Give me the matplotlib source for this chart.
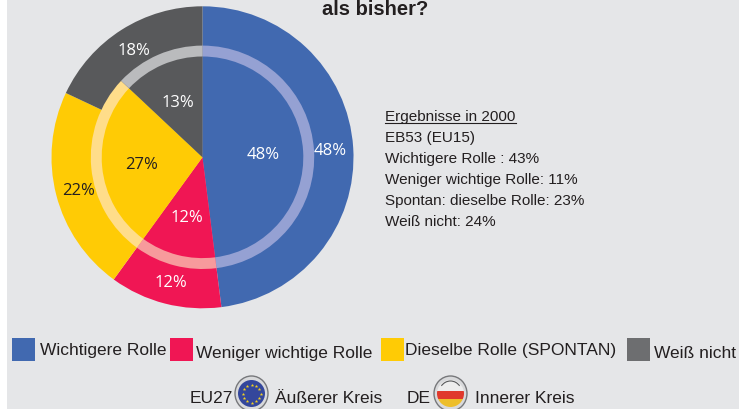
import matplotlib
matplotlib.use("Agg")
import matplotlib.pyplot as plt
from matplotlib.patches import Rectangle, Ellipse, Arc
import numpy as np

W, H = 749, 410

# data
categories = ["Wichtigere Rolle", "Weniger wichtige Rolle", "Dieselbe Rolle (SPONTAN)", "Weiß nicht"]
outer_eu27 = [48, 12, 22, 18]
inner_de = [48, 12, 27, 13]
result_lines = ["EB53 (EU15)", "Wichtigere Rolle : 43%", "Weniger wichtige Rolle: 11%",
                "Spontan: dieselbe Rolle: 23%", "Weiß nicht: 24%"]

# styles
colors = ["#4169B0", "#F01654", "#FFCB05", "#58595B"]
ring_colors = ["#95A1D3", "#F79A9C", "#FFDD8A", "#BABBBD"]
legend_colors = ["#4169B0", "#F01654", "#FFCB05", "#6D6E70"]
label_colors = ["white", "white", "#231F20", "white"]
BG = "#E5E6E8"
TXT = "#231F20"
SANS = "Liberation Sans"
cx, cy = 202.5, 410 - 158.3

fig = plt.figure(figsize=(W / 100, H / 100), dpi=100, facecolor="white")
ax = fig.add_axes([0, 0, 1, 1])
ax.add_patch(Rectangle((7, 0), 732, H, fc=BG, ec="none", zorder=0))


def py(y):
    return H - y


def draw_ring(values, radius, cols, **kw):
    return ax.pie(values, colors=cols, radius=radius, center=(cx, cy), startangle=90,
                  counterclock=False, frame=True, wedgeprops=dict(linewidth=0), **kw)


res_o = draw_ring(outer_eu27, 151, colors, autopct="%d%%", pctdistance=128 / 151)
draw_ring(inner_de, 111.7, ring_colors)
res_i = draw_ring(inner_de, 100.8, colors, autopct="%d%%", pctdistance=61 / 100.8)
for res in (res_o, res_i):
    for t, c in zip(res[2], label_colors):
        t.set_color(c)
        t.set_fontfamily("Open Sans")
        t.set_fontsize(12)
        t.set_y(t.get_position()[1] - 1)
ax.set_xlim(0, W)
ax.set_ylim(0, H)
ax.set_aspect("auto")
ax.axis("off")

# clipped title
ax.text(322, py(15), "als bisher?", fontsize=14.5, fontweight="bold", family=SANS, color=TXT,
        va="baseline", ha="left")

# results block
ax.text(385, py(121), "Ergebnisse in 2000", fontsize=11, family=SANS, color=TXT, va="baseline")
ax.plot([385, 516], [py(123.5), py(123.5)], color=TXT, lw=0.8)
for i, line in enumerate(result_lines):
    ax.text(385, py(141.7 + i * 21.2), line, fontsize=11, family=SANS, color=TXT, va="baseline")

# legend
sq_x = [12, 170, 381, 627]
txt_x = [40, 196, 405, 654]
txt_y = [355, 358, 355, 358]
for c, x, tx, ty, name in zip(legend_colors, sq_x, txt_x, txt_y, categories):
    ax.add_patch(Rectangle((x, py(362)), 23, 23, fc=c, ec="none"))
    ax.text(tx, py(ty), name, fontsize=12.5, family=SANS, color=TXT, va="baseline")

# bottom key
ax.text(190, py(403.5), "EU27", fontsize=12.5, family=SANS, color=TXT, va="baseline")
ax.text(275, py(403.5), "Äußerer Kreis", fontsize=12.5, family=SANS, color=TXT, va="baseline")
ax.text(407, py(403.5), "DE", fontsize=12.5, family=SANS, color=TXT, va="baseline")
ax.text(475, py(403.5), "Innerer Kreis", fontsize=12.5, family=SANS, color=TXT, va="baseline")

# EU badge
ex, ey = 251.5, py(394.5)
ax.add_patch(Ellipse((ex, ey), 33, 35, fc="#D8D9DB", ec="#77787B", lw=1.0))
ax.add_patch(Ellipse((ex, ey), 27, 27, fc="#34479C", ec="none"))
th = np.linspace(0, 2 * np.pi, 12, endpoint=False)
ax.scatter(ex + 9 * np.cos(th), ey + 9 * np.sin(th), s=7, c="#F4D21F", marker="*", linewidths=0)

# DE badge
dx, dy = 450.5, py(394.5)
ax.add_patch(Ellipse((dx, dy), 33, 35, fc="#D8D9DB", ec="#77787B", lw=1.0))
clip = Ellipse((dx, dy), 27, 27, transform=ax.transData)
for y0, h, c in [(dy + 3, 11, "#EDEDED"), (dy - 5, 8, "#E0392C"), (dy - 14, 9, "#EDBE2A")]:
    r = ax.add_patch(Rectangle((dx - 14, y0), 28, h, fc=c, ec="none"))
    r.set_clip_path(clip)
ax.add_patch(Arc((dx, dy), 23, 25, theta1=40, theta2=140, color="#58595B", lw=0.8))

fig.savefig("out.png", dpi=100, facecolor="white")
